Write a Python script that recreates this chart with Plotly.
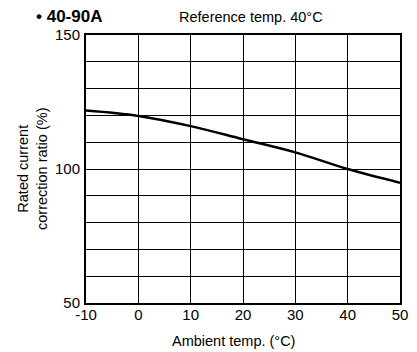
import plotly.graph_objects as go

temps = [-10, 0, 10, 20, 30, 40, 50]
ratio = [121.8, 119.8, 116.0, 111.1, 106.2, 100.0, 94.9]

x_ticks = [-10, 0, 10, 20, 30, 40, 50]
x_labels = ["-10", "0", "10", "20", "30", "40", "50"]
y_ticks = [50, 60, 70, 80, 90, 100, 110, 120, 130, 140, 150]
y_labels = ["50", "", "", "", "", "100", "", "", "", "", "150"]

# the page body adds an 8px offset, so the figure is 8px smaller than the window
OFF = 8
W, H = 417 - OFF, 352 - OFF
L, R, T, B = 86 - OFF, 17, 35 - OFF, 49
plot_w = W - L - R
plot_h = H - T - B

fig = go.Figure(
    go.Scatter(x=temps, y=ratio, mode="lines", line=dict(color="black", width=2.5, shape="spline"))
)

fig.update_layout(
    width=W,
    height=H,
    font=dict(family="Liberation Sans, Arial", size=15, color="black"),
    paper_bgcolor="white",
    plot_bgcolor="white",
    margin=dict(l=L, r=R, t=T, b=B),
    showlegend=False,
)
axis_style = dict(
    showgrid=True,
    gridcolor="black",
    gridwidth=1,
    showline=True,
    linecolor="black",
    linewidth=2,
    mirror=True,
    ticks="",
    zeroline=False,
    automargin=False,
    tickfont=dict(size=15),
)
fig.update_xaxes(range=[-10, 50], tickvals=x_ticks, ticktext=x_labels, ticklabelstandoff=-3, **axis_style)
fig.update_yaxes(range=[50, 150], tickvals=y_ticks, ticktext=y_labels, ticklabelstandoff=1, **axis_style)


# header and axis titles placed at window pixels, converted to paper coords
def px_x(p):
    return (p - OFF - L) / plot_w


def px_y(p):
    return (H - B - (p - OFF)) / plot_h


fig.add_annotation(text="<b>• 40-90A</b>", x=px_x(34), y=px_y(16), xref="paper", yref="paper",
                   showarrow=False, xanchor="left", yanchor="middle", font=dict(size=17))
fig.add_annotation(text="Reference temp. 40°C", x=px_x(251), y=px_y(17), xref="paper", yref="paper",
                   showarrow=False, xanchor="center", yanchor="middle", font=dict(size=14.5))
fig.add_annotation(text="Ambient temp. (°C)", x=px_x(233), y=px_y(341), xref="paper", yref="paper",
                   showarrow=False, xanchor="center", yanchor="middle", font=dict(size=14.5))
fig.add_annotation(text="Rated current<br>correction ratio (%)", x=px_x(32), y=px_y(169), xref="paper",
                   yref="paper", showarrow=False, xanchor="center", yanchor="middle", textangle=-90,
                   font=dict(size=14.5))

fig.write_html("out.html")
